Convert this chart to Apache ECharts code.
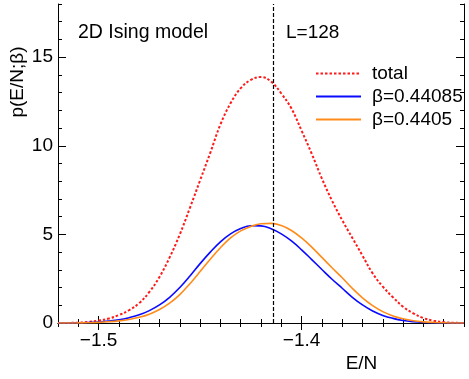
<!DOCTYPE html>
<html><head><meta charset="utf-8">
<script src="https://cdn.jsdelivr.net/npm/echarts@6/dist/echarts.min.js"></script>
<style>html,body{margin:0;padding:0;background:#fff}#c{width:469px;height:379px}</style>
</head><body><div id="c"></div>
<script>
const energy = [-1.520,-1.515,-1.510,-1.505,-1.500,-1.495,-1.490,-1.485,-1.480,-1.475,-1.470,-1.465,-1.460,-1.455,-1.450,-1.445,-1.440,-1.435,-1.430,-1.425,-1.420,-1.415,-1.410,-1.405,-1.400,-1.395,-1.390,-1.385,-1.380,-1.375,-1.370,-1.365,-1.360,-1.355,-1.350,-1.345,-1.340,-1.335,-1.330,-1.325,-1.320];
const total = [0,0.005,0.02,0.06,0.14,0.25,0.45,0.72,1.12,1.75,2.6,3.7,5.0,6.5,8.05,9.6,11.2,12.4,13.25,13.72,13.88,13.62,12.95,12.1,10.85,9.55,8.15,6.9,5.8,4.8,3.8,2.8,2.05,1.45,0.92,0.55,0.28,0.13,0.05,0.015,0];
const beta44085 = [0,0,0.01,0.03,0.06,0.11,0.18,0.3,0.46,0.7,1.02,1.45,2.0,2.65,3.35,4.0,4.58,5.03,5.33,5.49,5.48,5.32,5.03,4.63,4.13,3.58,3.02,2.47,1.96,1.45,1.02,0.68,0.43,0.26,0.14,0.07,0.03,0.01,0,0,0];
const beta4405 = [0,0,0.005,0.015,0.035,0.07,0.12,0.2,0.32,0.5,0.76,1.12,1.6,2.22,2.9,3.6,4.25,4.8,5.2,5.45,5.6,5.62,5.5,5.22,4.8,4.28,3.7,3.12,2.55,1.95,1.42,0.98,0.64,0.4,0.24,0.13,0.065,0.03,0.01,0.003,0];
const seriesNames = ['total','β=0.44085','β=0.4405'];
const xTickLabels = [-1.5,-1.4];
const yTickLabels = [0,5,10,15];
const criticalEnergy = -1.41421;
const xMin = -1.52, xMax = -1.32, yMin = 0, yMax = 18;

const FONT = 'Liberation Sans, Arial, Helvetica, sans-serif';
const chart = echarts.init(document.getElementById('c'), null, {renderer:'canvas'});
const pairs = arr => energy.map((x,i)=>[x,arr[i]]);
const lineAxis = {show:true, lineStyle:{color:'#000', width:1}};
function xAx(pos, major, showLine){
  const a = {type:'value', position:pos, min:xMin, max:xMax,
    axisLine: showLine ? lineAxis : {show:false}, splitLine:{show:false},
    axisTick:{show:true, inside:true, length: major?7:4, lineStyle:{color:'#000', width:1}},
    axisLabel:{show:false}};
  if (major){
    a.axisTick.customValues = xTickLabels;
    a.axisLabel = {show: pos==='bottom', customValues:xTickLabels, margin:8, color:'#000', fontSize:19, fontFamily:FONT,
      formatter:v=>v.toFixed(1).replace('-','\u2212')};
  } else a.interval = 0.01;
  return a;
}
function yAx(pos, major, showLine){
  const a = {type:'value', position:pos, min:yMin, max:yMax,
    axisLine: showLine ? lineAxis : {show:false}, splitLine:{show:false},
    axisTick:{show:true, inside:true, length: major?8:4, lineStyle:{color:'#000', width:1}},
    axisLabel:{show:false}};
  if (major){
    a.axisTick.customValues = yTickLabels;
    a.axisLabel = {show: pos==='left', customValues:yTickLabels, margin:5, color:'#000', fontSize:19, fontFamily:FONT};
  } else a.interval = 1;
  return a;
}
chart.setOption({
  animation:false,
  grid:{left:58, right:5, top:4, bottom:56, containLabel:false},
  xAxis:[xAx('bottom',true,true), xAx('top',false,true), xAx('top',true,false), xAx('bottom',false,false)],
  yAxis:[yAx('left',true,true), yAx('right',false,true), yAx('right',true,false), yAx('left',false,false)],
  legend:{orient:'vertical', left:310, top:59, itemWidth:45, itemHeight:14, itemGap:4,
    itemStyle:{opacity:0},
    textStyle:{fontSize:19, fontFamily:FONT, color:'#000', lineHeight:19, padding:[0,0,0,6]},
    data:seriesNames},
  graphic:[
    {type:'text', x:78, y:33, style:{text:'2D Ising model', font:'19.5px '+FONT, fill:'#000', textVerticalAlign:'middle'}},
    {type:'text', x:286, y:33, style:{text:'L=128', font:'19px '+FONT, fill:'#000', textVerticalAlign:'middle'}},
    {type:'text', x:361.5, y:363.5, style:{text:'E/N', font:'19px '+FONT, fill:'#000', textAlign:'center', textVerticalAlign:'middle'}},
    {type:'text', x:17.5, y:82, rotation:Math.PI/2, style:{text:'p(E/N;β)', font:'19px '+FONT, fill:'#000', textAlign:'center', textVerticalAlign:'middle'}}
  ],
  series:[
    {name:seriesNames[0], type:'line', xAxisIndex:0, yAxisIndex:0, data:pairs(total), symbol:'none', smooth:0.4,
     lineStyle:{color:'#ff1a1a', width:2, type:[2.5,2]}, itemStyle:{color:'#ff1a1a'},
     markLine:{silent:true, symbol:'none', precision:6, label:{show:false}, lineStyle:{color:'#000', width:1.2, type:[4,2]}, data:[{xAxis:criticalEnergy}]}},
    {name:seriesNames[1], type:'line', xAxisIndex:0, yAxisIndex:0, data:pairs(beta44085), symbol:'none', smooth:0.4,
     lineStyle:{color:'#0a0aff', width:1.6}, itemStyle:{color:'#0a0aff'}},
    {name:seriesNames[2], type:'line', xAxisIndex:0, yAxisIndex:0, data:pairs(beta4405), symbol:'none', smooth:0.4,
     lineStyle:{color:'#ff8c1a', width:1.6}, itemStyle:{color:'#ff8c1a'}}
  ]
});
</script></body></html>
